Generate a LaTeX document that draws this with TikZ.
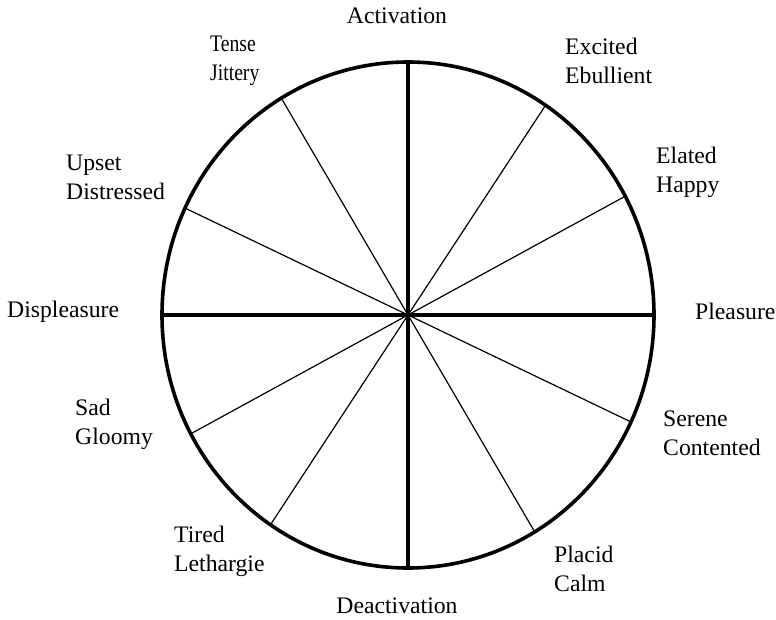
\documentclass[tikz,border=0pt]{standalone}
\usepackage{fontspec}
\setmainfont{Liberation Serif}
\newfontfamily\narrowserif[FakeStretch=0.83]{Liberation Serif}
\begin{document}
\begin{tikzpicture}[x=1pt,y=-1pt,
  rim/.style={line width=3.6pt},
  axis/.style={line width=4pt},
  spoke/.style={line width=1.2pt},
  lbl/.style={anchor=base west,inner sep=0pt,align=left,
    font=\fontsize{23.7}{28.5}\selectfont},
  clbl/.style={lbl,anchor=base}]
\useasboundingbox (0,0) rectangle (776,619);
\coordinate (c) at (408,315);
\def\rx{246}\def\ry{253}
% thin spokes (diameters through the centre)
\foreach \t in {121,56,28,155}
  \draw[spoke] ({408+\rx*cos(\t)},{315-\ry*sin(\t)}) -- (c)
               -- ({408-\rx*cos(\t)},{315+\ry*sin(\t)});
% main axes
\draw[axis] (408,{315-\ry}) -- (408,{315+\ry});
\draw[axis] ({408-\rx},315) -- ({408+\rx},315);
% outer rim
\draw[rim] (c) ellipse [x radius=\rx, y radius=\ry];
% labels (two-line labels are placed by the baseline of their last line)
\node[clbl] (act) at (397,23) {Activation};
\node[clbl] (deact) at (397,613) {Deactivation};
\node[lbl] (plea) at (695,319) {Pleasure};
\node[lbl] (displ) at (7,317) {Displeasure};
\node[lbl,font=\fontsize{23.7}{28.5}\narrowserif] (tense) at (210,80) {Tense\\Jittery};
\node[lbl] (exc) at (565,83) {Excited\\Ebullient};
\node[lbl] (ela) at (656,192) {Elated\\Happy};
\node[lbl] (ser) at (663,455) {Serene\\Contented};
\node[lbl] (ups) at (66,199) {Upset\\Distressed};
\node[lbl] (sad) at (75,444) {Sad\\Gloomy};
\node[lbl] (tir) at (174,571) {Tired\\Lethargie};
\node[lbl] (pla) at (554,591) {Placid\\Calm};
\end{tikzpicture}
\end{document}
